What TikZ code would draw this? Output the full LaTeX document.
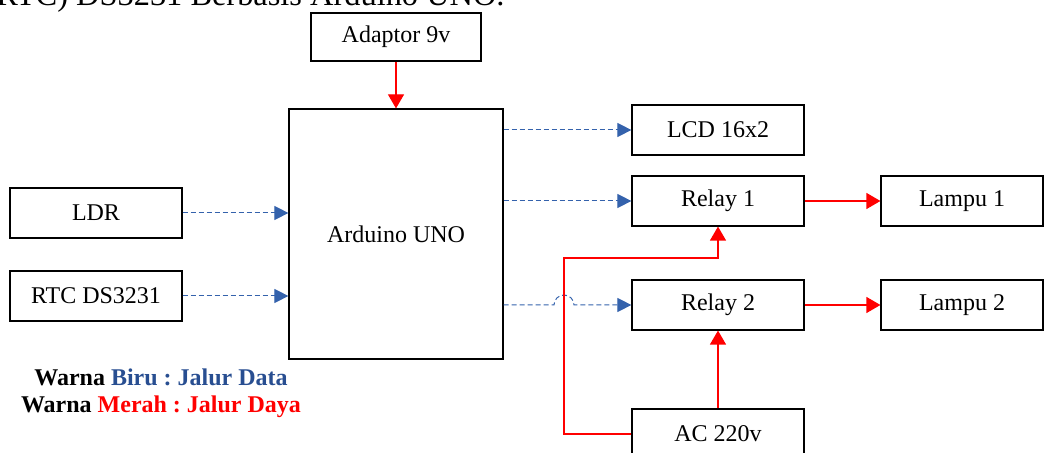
\documentclass[tikz,border=0pt]{standalone}
\usepackage{fontspec}
\setmainfont{Liberation Serif}
\usetikzlibrary{arrows.meta,positioning,calc}
\definecolor{datablue}{RGB}{52,98,172}
\definecolor{legblue}{RGB}{40,78,145}
\definecolor{powred}{RGB}{255,0,0}
\tikzset{
  blok/.style  = {draw, line width=0.6pt, fill=white, minimum width=86pt, minimum height=25pt,
                  inner sep=0pt, font=\fontsize{12}{14}\selectfont},
  data/.style  = {datablue, line width=0.5pt, dash pattern=on 2.5pt off 1.5pt,
                  -{Triangle[length=7pt,width=7pt]}},
  power/.style = {powred, line width=0.6pt, -{Triangle[length=7pt,width=8pt]}},
}
\frenchspacing
\begin{document}
\begin{tikzpicture}[x=0.5pt,y=-0.5pt]
  \clip (0,0) rectangle (1044,453);
  % title line (cut at the top)
  \node[anchor=base east, inner sep=0pt, font=\fontsize{16.2}{18}\selectfont] (judul) at (505,6)
     {RTC) DS3231 Berbasis Arduino UNO.};
  % blocks
  \node[blok, minimum width=85pt, minimum height=24pt] (adp) at (396,37) {Adaptor 9v};
  \node[blok, minimum width=107pt, minimum height=125pt] (ard) at (396,234) {Arduino UNO};
  \node[blok] (ldr) at (96,213) {LDR};
  \node[blok] (rtc) at (96,296) {RTC DS3231};
  \node[blok] (lcd) at (718,130) {LCD 16x2};
  \node[blok] (rl1) at (718,201) {Relay 1};
  \node[blok] (rl2) at (718,305) {Relay 2};
  \node[blok, minimum width=81pt] (lp1) at (962,201) {Lampu 1};
  \node[blok, minimum width=81pt] (lp2) at (962,305) {Lampu 2};
  \node[blok] (ac) at (718,434) {AC 220v};
  % data lines
  \draw[data] (ldr.east) -- (ldr.east -| ard.west);
  \draw[data] (rtc.east) -- (rtc.east -| ard.west);
  \draw[data] (ard.east |- lcd.west) -- (lcd.west);
  \draw[data] (ard.east |- rl1.west) -- (rl1.west);
  \coordinate (naik) at (564,258);
  \coordinate (lompat) at (naik |- rl2.west);
  \draw[data] (ard.east |- rl2.west) -- ($(lompat)+(-10,0)$)
     arc[start angle=180, end angle=0, radius=5pt] -- (rl2.west);
  % power lines
  \draw[power] (adp.south) -- (ard.north);
  \draw[power] (rl1.east) -- (lp1.west);
  \draw[power] (rl2.east) -- (lp2.west);
  \draw[power] (ac.north) -- (rl2.south);
  \draw[power] (ac.west) -| (naik) -| (rl1.south);
  % legend
  \node[align=center, font=\fontsize{12}{13.5}\selectfont\bfseries] (ket) at (161,393)
     {Warna \textcolor{legblue}{Biru : Jalur Data}\\
      Warna \textcolor{powred}{Merah : Jalur Daya}};
\end{tikzpicture}
\end{document}
